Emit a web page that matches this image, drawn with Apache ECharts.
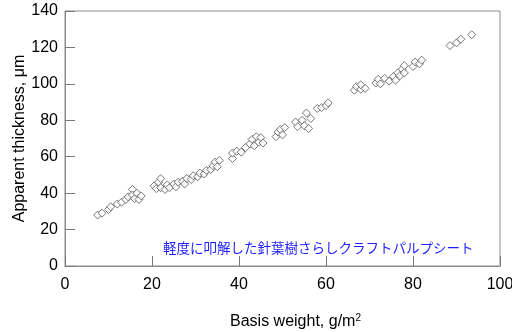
<!DOCTYPE html>
<html>
<head>
<meta charset="utf-8">
<script src="https://cdn.jsdelivr.net/npm/echarts@6/dist/echarts.min.js"></script>
<style>
  html, body { margin: 0; padding: 0; background: #fff; }
  #chart { width: 512px; height: 332px; }
</style>
</head>
<body>
<div id="chart"></div>
<script>
// basis weight (g/m2) and apparent thickness (um), paired by index
const basisWeight = [
  7.5, 8.5, 10, 10.5, 12, 13, 14, 14.5, 15.5, 15.5, 16, 16.5, 17, 17.5,
  20.5, 21, 21.5, 22, 22, 23, 23.5, 24, 25, 25.5, 26, 27, 27.5, 28, 29, 29.5,
  30.5, 31, 32, 32.5, 33.5, 34, 34.5, 35, 35.5,
  38.5, 38.5, 39.5, 40.5, 41.5, 42.5, 43, 43.5, 44, 44.5, 45, 45.5,
  48.5, 49, 49.5, 50, 50.5,
  53, 53.5, 54.5, 55, 55.5, 56, 56.5, 58, 59, 60, 60.5,
  66.5, 67, 68, 68, 69,
  71.5, 72, 72.5, 73.5, 74.5, 75.5, 76, 76.5, 77, 77.5, 78, 78,
  80, 80.5, 81.5, 82,
  88.5, 90, 91, 93.5
];
const thickness = [
  28, 29, 31, 32.5, 34, 35, 36.5, 38, 42, 39, 37, 40, 36.5, 38.5,
  44, 42.5, 46, 48, 43, 42, 44.5, 43, 45, 43.5, 46, 46.5, 45, 48, 47.5, 49.5,
  49, 51, 50.5, 52.5, 53, 55, 57, 54.5, 58,
  59, 62, 63, 62.5, 65, 67, 69.5, 66, 71, 68, 70.5, 67.5,
  71, 73.5, 75, 72, 76,
  79, 76.5, 80, 77, 84, 75.5, 81, 86.5, 87, 88, 89.5,
  96.5, 98.5, 97, 99.5, 97.5,
  100.5, 102.5, 100, 103, 101.5, 104, 102, 106, 104.5, 108, 110, 106,
  109.5, 112, 111, 113,
  121, 122.5, 124.5, 127
];
const xTicks = [0, 20, 40, 60, 80, 100];
const yTicks = [0, 20, 40, 60, 80, 100, 120, 140];
const noteText = '軽度に叩解した針葉樹さらしクラフトパルプシート';

const points = basisWeight.map((x, i) => [x, thickness[i]]);

const chart = echarts.init(document.getElementById('chart'));
const font = 'Liberation Sans, Arial, sans-serif';

chart.setOption({
  animation: false,
  grid: {
    left: 65, right: 12, top: 11, bottom: 66,
    outerBoundsMode: 'none',
    containLabel: false,
    show: true, borderColor: '#8c8c8c', borderWidth: 1
  },
  xAxis: {
    type: 'value',
    min: xTicks[0],
    max: xTicks[xTicks.length - 1],
    interval: 20,
    name: '{a|Basis weight, g/m}{b|2}',
    nameLocation: 'middle',
    nameGap: 47,
    nameTextStyle: {
      padding: [0, 0, 0, 26],
      rich: {
        a: { color: '#000', fontSize: 16, fontFamily: font, lineHeight: 18 },
        b: { color: '#000', fontSize: 10, fontFamily: font, verticalAlign: 'top', lineHeight: 18 }
      }
    },
    axisLine: { show: true, lineStyle: { color: '#8c8c8c' } },
    axisTick: { show: true, inside: true, length: 10, lineStyle: { color: '#777' } },
    axisLabel: { color: '#000', fontSize: 16, fontFamily: font, margin: 11 },
    splitLine: { show: false }
  },
  yAxis: {
    type: 'value',
    min: yTicks[0],
    max: yTicks[yTicks.length - 1],
    interval: 20,
    name: 'Apparent thickness, μm',
    nameLocation: 'middle',
    nameGap: 37,
    nameMoveOverlap: false,
    nameTextStyle: { color: '#000', fontSize: 16, fontFamily: font },
    axisLine: { show: true, lineStyle: { color: '#8c8c8c' } },
    axisTick: { show: true, inside: true, length: 10, lineStyle: { color: '#777' } },
    axisLabel: { color: '#000', fontSize: 16, fontFamily: font, margin: 7 },
    splitLine: { show: false }
  },
  graphic: [{
    type: 'text',
    x: 163,
    y: 248,
    style: {
      text: noteText,
      fill: '#1f1fff',
      font: '13.5px "Noto Sans CJK JP", sans-serif',
      verticalAlign: 'middle'
    }
  }],
  series: [{
    type: 'scatter',
    data: points,
    symbol: 'diamond',
    symbolSize: 8,
    itemStyle: { color: '#fff', borderColor: '#555', borderWidth: 1 }
  }]
});
</script>
</body>
</html>
